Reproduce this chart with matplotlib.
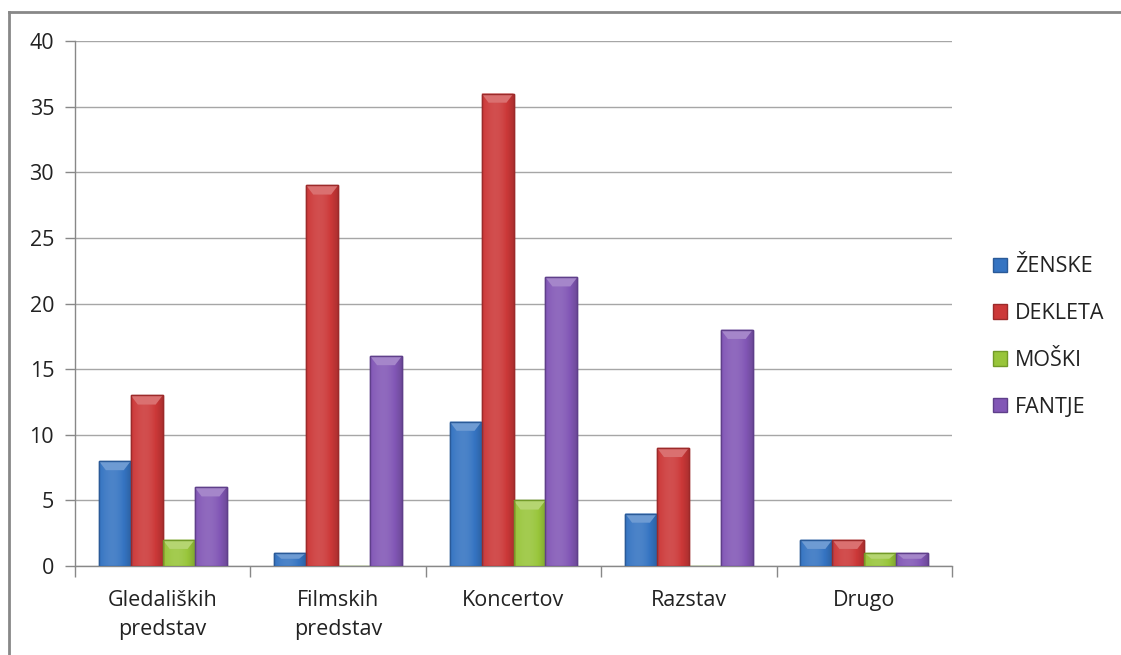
import matplotlib
matplotlib.use("Agg")
import matplotlib.pyplot as plt
import numpy as np
from matplotlib.lines import Line2D
from matplotlib.patches import Polygon
from matplotlib.colors import to_rgb

plt.rcParams['font.family'] = ['Open Sans', 'DejaVu Sans']

categories = ["Gledaliških\npredstav", "Filmskih\npredstav", "Koncertov", "Razstav", "Drugo"]
series_names = ["ŽENSKE", "DEKLETA", "MOŠKI", "FANTJE"]
zenske = [8, 1, 11, 4, 2]
dekleta = [13, 29, 36, 9, 2]
moski = [2, 0, 5, 0, 1]
fantje = [6, 16, 22, 18, 1]
series = [zenske, dekleta, moski, fantje]
colors = ["#3574c2", "#cc3838", "#98c53a", "#8257b6"]
edges = ["#2a5a98", "#9c2a2a", "#729a28", "#5f3f8a"]


def shade(c, f):
    r = np.array(to_rgb(c))
    if f > 0:
        return tuple(r + (1 - r) * f)
    return tuple(r * (1 + f))


fig = plt.figure(figsize=(11.21, 6.55), dpi=100)
ax = fig.add_axes([75/1121, 1-566/655, (952-75)/1121, (566-41)/655])

x = np.arange(len(categories))
w = 0.182
ax.set_xlim(-0.5, len(categories) - 0.5)
ax.set_ylim(0, 40)

for i, (vals, c, e) in enumerate(zip(series, colors, edges)):
    bars = ax.bar(x + (i - 1.5) * w, vals, w, color=c, edgecolor=e, linewidth=1,
                  label=series_names[i], zorder=3)
    # horizontal gradient + top bevel to mimic the Excel look
    grad = np.linspace(0, 1, 64)
    prof = 0.18 * np.sin(np.pi * grad) - 0.15 * grad
    cols = np.array([shade(c, p) for p in prof])[None, :, :]
    for b in bars:
        h = b.get_height()
        if h <= 0:
            continue
        x0, bw = b.get_x(), b.get_width()
        im = ax.imshow(cols, extent=(x0, x0 + bw, 0, h), aspect="auto", zorder=3.1,
                       interpolation="bilinear")
        im.set_clip_path(b)
        bh = min(0.7, h * 0.45)
        ins = bw * 0.22
        ax.add_patch(Polygon([(x0, h), (x0 + bw, h), (x0 + bw - ins, h - bh), (x0 + ins, h - bh)],
                             closed=True, facecolor=shade(c, 0.28), edgecolor="none", zorder=3.2))
        ax.add_patch(plt.Rectangle((x0, 0), bw, h, facecolor="none", edgecolor=e,
                                   linewidth=1, zorder=3.3))

ax.set_yticks(range(0, 41, 5))
ax.yaxis.grid(True, color="#a6a6a6", linewidth=1, zorder=0)

# category boundaries as major ticks, labels on minor ticks
ax.set_xticks(np.arange(-0.5, len(categories), 1))
ax.set_xticklabels([])
ax.set_xticks(x, minor=True)
ax.set_xticklabels(categories, minor=True, linespacing=1.55)
ax.tick_params(axis="x", which="minor", length=0, pad=17, labelsize=15.5, labelcolor="#222222")
ax.tick_params(axis="x", which="major", length=8, color="#888888", width=1)
ax.tick_params(axis="y", length=7, color="#888888", width=1, pad=8, labelsize=15.5, labelcolor="#222222")

for s in ["top", "right"]:
    ax.spines[s].set_visible(False)
for s in ["left", "bottom"]:
    ax.spines[s].set_color("#888888")
    ax.spines[s].set_linewidth(1)

fig.legend(loc="center left", bbox_to_anchor=(974/1121, 1-337/655), frameon=False,
           fontsize=15.5, handlelength=0.65, handleheight=0.65, handletextpad=0.35,
           labelspacing=1.2, labelcolor="#222222")

# outer chart border (left and top visible)
fig.add_artist(Line2D([9/1121, 9/1121], [0, 1-12/655], color="#888888", linewidth=2))
fig.add_artist(Line2D([9/1121, 1], [1-12/655, 1-12/655], color="#888888", linewidth=2))

fig.savefig("out.png", dpi=100)
